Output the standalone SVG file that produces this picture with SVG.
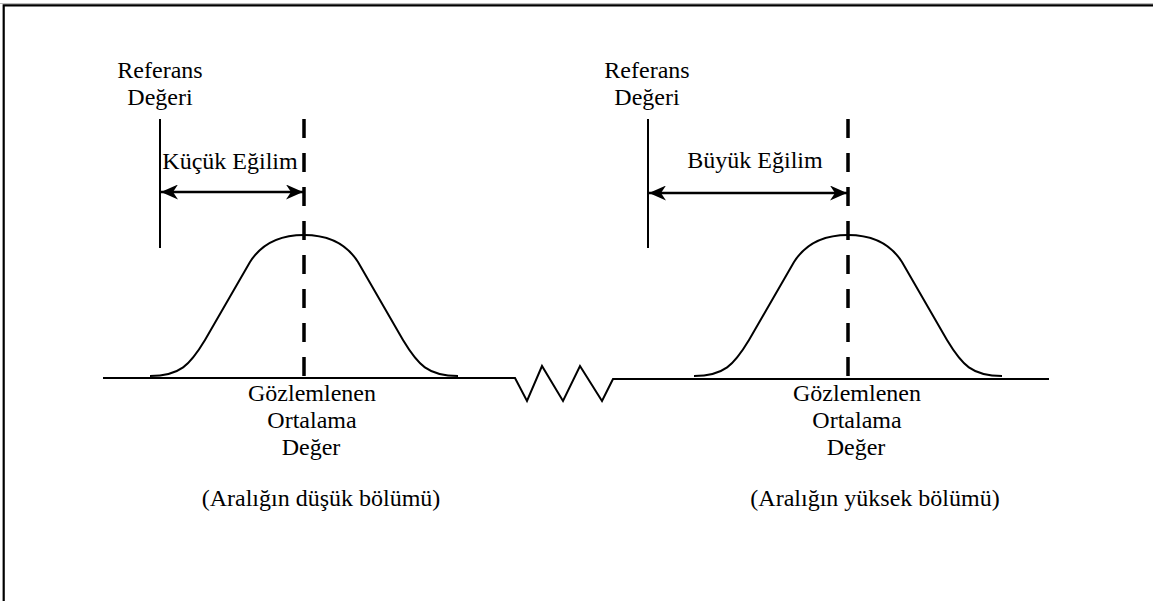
<svg xmlns="http://www.w3.org/2000/svg" width="1153" height="601" viewBox="0 0 1153 601">
<style>
text{font-size:24px;fill:#000;text-anchor:middle}
.ln{stroke:#000;stroke-width:2;fill:none}
.dash{stroke:#000;stroke-width:3.5;stroke-dasharray:19 15;fill:none}
.arr{stroke:#000;stroke-width:2.5;fill:none;marker-start:url(#ah);marker-end:url(#ah)}
</style>
<defs>
<marker id="ah" viewBox="0 0 17 15" refX="17" refY="7.5" markerWidth="17" markerHeight="15" markerUnits="userSpaceOnUse" orient="auto-start-reverse">
<path d="M0,0 L17,7.5 L0,15 L5,7.5 Z" fill="#000"/>
</marker>
</defs>
<rect width="1153" height="601" fill="#fff"/>
<line x1="0" y1="3.5" x2="1153" y2="3.5" stroke="#bbb" stroke-width="1"/>
<path d="M3.7,601 V5.3 H1153" fill="none" stroke="#000" stroke-width="2.2"/>
<g id="axis">
<path class="ln" d="M103,378 H515 L527,401 L542,366 L563,401 L580,366 L602,401 L613,379 H1049"/>
</g>
<g id="left-section" font-family="Liberation Serif, DejaVu Serif, serif">
<text x="160" y="78">Referans</text>
<text x="160" y="105">Değeri</text>
<line class="ln" x1="160" y1="119" x2="160" y2="248"/>
<line class="dash" x1="304" y1="119" x2="304" y2="378"/>
<text x="230" y="169">Küçük Eğilim</text>
<path class="ln" d="M150,376 C180,376 190,365 205,340 L250,262 C262,243 280,235 304,235 C328,235 346,243 358,262 L403,340 C418,365 428,376 458,376"/>
<text x="312" y="401">Gözlemlenen</text>
<text x="312" y="428">Ortalama</text>
<text x="311" y="455">Değer</text>
<text x="321" y="506">(Aralığın düşük bölümü)</text>
</g>
<g id="right-section" font-family="Liberation Serif, DejaVu Serif, serif">
<text x="647" y="78">Referans</text>
<text x="647" y="105">Değeri</text>
<line class="ln" x1="648" y1="119" x2="648" y2="248"/>
<line class="dash" x1="848" y1="119" x2="848" y2="378"/>
<text x="755" y="168">Büyük Eğilim</text>
<path class="ln" d="M694,376 C724,376 734,365 749,340 L794,262 C806,243 824,235 848,235 C872,235 890,243 902,262 L947,340 C962,365 972,376 1002,376"/>
<text x="857" y="401">Gözlemlenen</text>
<text x="857" y="428">Ortalama</text>
<text x="856" y="455">Değer</text>
<text x="875" y="506">(Aralığın yüksek bölümü)</text>
</g>
<g id="connectors">
<line class="arr" x1="161" y1="192" x2="303" y2="192"/>
<line class="arr" x1="649" y1="193" x2="847" y2="193"/>
</g>
</svg>
